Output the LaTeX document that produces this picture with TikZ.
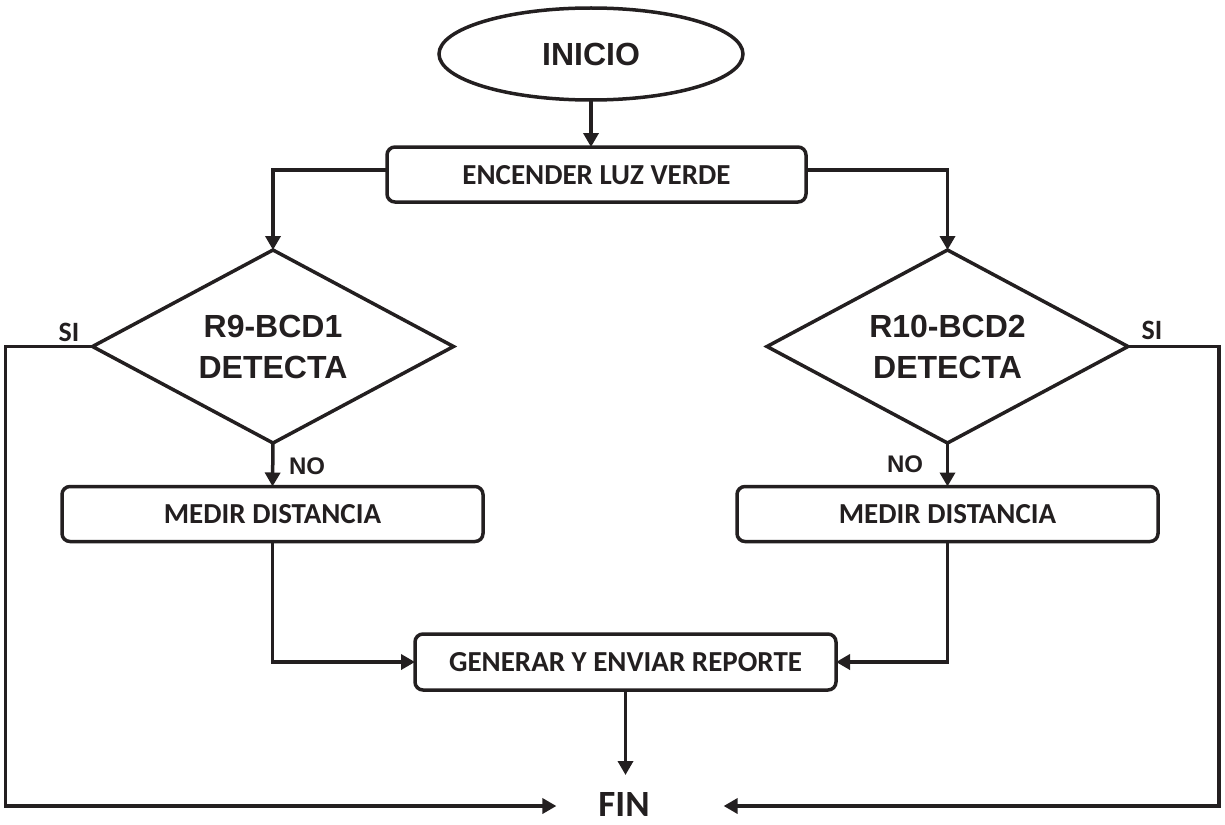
\documentclass[tikz,border=0pt]{standalone}
\usepackage{fontspec}
\setmainfont{Liberation Sans}
\newfontfamily\calib{Carlito}
\usetikzlibrary{shapes.geometric,arrows.meta}
\definecolor{ink}{RGB}{35,31,32}

\begin{document}
\begin{tikzpicture}[x=1pt,y=-1pt,
  color=ink, line width=3.5pt,
  every node/.style={inner sep=0pt, outer sep=0pt},
  terminal/.style={ellipse, draw, minimum width=304pt, minimum height=92pt,
    font=\bfseries\fontsize{32}{38}\selectfont},
  process/.style={rectangle, draw, rounded corners=8pt, minimum width=421pt,
    minimum height=55pt, font=\calib\bfseries\fontsize{29}{34}\selectfont},
  decision/.style={diamond, draw, aspect=1.87, minimum width=361pt,
    minimum height=193pt, align=center,
    font=\bfseries\fontsize{32}{41}\selectfont},
  endtext/.style={font=\calib\bfseries\fontsize{37}{42}\selectfont},
  silabel/.style={font=\calib\bfseries\fontsize{28}{32}\selectfont},
  nolabel/.style={font=\bfseries\fontsize{24}{28}\selectfont},
  arr/.style={-{Triangle[length=14pt,width=15pt]}}
]
\useasboundingbox (0,0) rectangle (1225,824);

% blocks (a negative text depth lowers the caption inside its box)
\node[terminal] (inicio) at (591,54) {INICIO};
\node[process, minimum width=419pt, text depth=-10pt] (enc) at (596.5,174.5) {ENCENDER LUZ VERDE};
\node[decision] (d1) at (273,346.5) {R9-BCD1\\DETECTA};
\node[decision] (d2) at (947.5,346.5) {R10-BCD2\\DETECTA};
\node[process, text depth=-6pt] (m1) at (272.5,514) {MEDIR DISTANCIA};
\node[process, text depth=-6pt] (m2) at (947.5,514) {MEDIR DISTANCIA};
\node[process, minimum height=56pt, text depth=-4pt] (gen) at (625.5,662) {GENERAR Y ENVIAR REPORTE};
\node[endtext] (fin) at (624,804) {FIN};

% connector ends
\coordinate (encL) at ([yshift=4.5pt]enc.west);
\coordinate (encR) at ([yshift=4.5pt]enc.east);
\coordinate (finL) at ([xshift=-42pt]fin.west |- 0,806);
\coordinate (finR) at ([xshift=74pt]fin.east |- 0,806);
\coordinate (finT) at ([yshift=17pt]fin.north);

% branch labels
\node[silabel] (si1) at (69,332) {SI};
\node[silabel] (si2) at (1152,330) {SI};
\node[nolabel] (no1) at (307,466) {NO};
\node[nolabel] (no2) at (905,464) {NO};

% connectors
\draw[arr] (inicio.south) -- (inicio.south |- enc.north);
\draw[arr] (encL) -| (d1.north);
\draw[arr] (encR) -| (d2.north);
\draw[arr] (d1.south) -- (m1.north);
\draw[arr] (d2.south) -- (m2.north);
\draw[arr] (m1.south) |- (gen.west);
\draw[arr] (m2.south) |- (gen.east);
\draw[arr] (gen.south) -- (gen.south |- finT);
\draw[arr] (d1.west) -- ++(-87,0) |- (finL);
\draw[arr] (d2.east) -- ++(91,0) |- (finR);
\end{tikzpicture}
\end{document}
